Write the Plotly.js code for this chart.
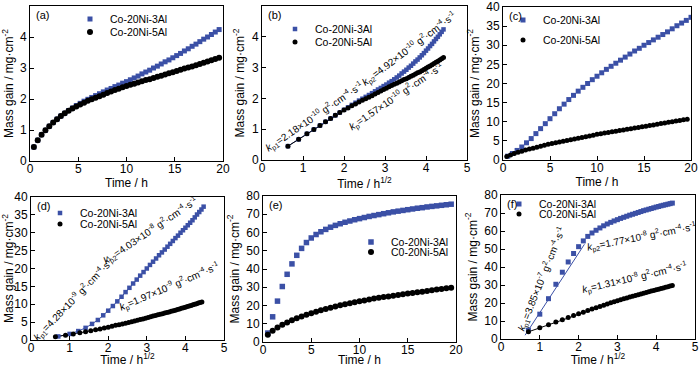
<!DOCTYPE html>
<html><head><meta charset="utf-8">
<script src="https://cdn.plot.ly/plotly-3.0.1.min.js"></script>
<style>html,body{margin:0;padding:0;background:#fff}#c{width:700px;height:367px}</style>
</head><body><div id="c"></div>
<script>
// ---- data ----
// (a)/(b): oxidation time (h), step 0.4 h
var timeA = [0.4,0.8,1.2,1.6,2.0,2.4,2.8,3.2,3.6,4.0,4.4,4.8,5.2,5.6,6.0,6.4,6.8,7.2,7.6,8.0,8.4,8.8,9.2,9.6,10.0,10.4,10.8,11.2,11.6,12.0,12.4,12.8,13.2,13.6,14.0,14.4,14.8,15.2,15.6,16.0,16.4,16.8,17.2,17.6,18.0,18.4,18.8,19.2,19.6];
var massA_3Al = [0.45,0.67,0.85,0.99,1.12,1.24,1.35,1.45,1.54,1.63,1.71,1.79,1.86,1.93,1.99,2.05,2.11,2.17,2.23,2.29,2.34,2.40,2.45,2.51,2.56,2.62,2.68,2.74,2.81,2.87,2.93,3.00,3.06,3.13,3.20,3.26,3.33,3.40,3.47,3.55,3.62,3.70,3.77,3.85,3.93,4.00,4.08,4.16,4.24];
var massA_5Al = [0.45,0.67,0.85,0.99,1.12,1.24,1.35,1.45,1.54,1.62,1.69,1.76,1.82,1.88,1.94,1.99,2.04,2.09,2.14,2.19,2.24,2.29,2.33,2.38,2.42,2.46,2.49,2.53,2.57,2.61,2.64,2.68,2.72,2.75,2.79,2.83,2.86,2.90,2.94,2.98,3.02,3.05,3.09,3.13,3.17,3.21,3.25,3.29,3.33];
// (c)/(d)
var timeC_3Al = [0.5,1.0,1.5,2.0,2.5,3.0,3.5,4.0,4.5,5.0,5.5,6.0,6.5,7.0,7.5,8.0,8.5,9.0,9.5,10.0,10.5,11.0,11.5,12.0,12.5,13.0,13.5,14.0,14.5,15.0,15.5,16.0,16.5,17.0,17.5,18.0,18.5,19.0,19.5,20.0];
var massC_3Al = [1.0,1.7,2.5,3.4,4.5,5.6,6.9,8.2,9.5,10.8,12.1,13.4,14.6,15.8,16.9,18.0,19.0,20.0,21.0,21.9,22.8,23.7,24.5,25.3,26.1,26.9,27.7,28.5,29.2,30.0,30.7,31.4,32.1,32.8,33.5,34.3,35.1,35.8,36.5,37.3];
var timeC_5Al = timeA;
var massC_5Al = [0.9,1.3,1.7,2.0,2.3,2.6,2.85,3.1,3.35,3.6,3.85,4.1,4.3,4.5,4.7,4.9,5.1,5.3,5.5,5.7,5.9,6.1,6.3,6.5,6.7,6.87,7.03,7.2,7.36,7.53,7.69,7.86,8.02,8.19,8.35,8.52,8.68,8.85,9.01,9.18,9.34,9.51,9.67,9.84,10.0,10.17,10.33,10.5,10.66];
// (e)/(f)
var timeE = [0.5,1.0,1.5,2.0,2.5,3.0,3.5,4.0,4.5,5.0,5.5,6.0,6.5,7.0,7.5,8.0,8.5,9.0,9.5,10.0,10.5,11.0,11.5,12.0,12.5,13.0,13.5,14.0,14.5,15.0,15.5,16.0,16.5,17.0,17.5,18.0,18.5,19.0,19.5];
var massE_3Al = [4.9,13.8,22.4,30.4,37.1,42.8,47.5,51.3,54.5,57.0,58.9,60.4,61.7,62.9,63.9,64.8,65.6,66.3,67.0,67.6,68.2,68.8,69.3,69.8,70.3,70.8,71.3,71.7,72.1,72.5,72.9,73.3,73.6,74.0,74.3,74.6,74.9,75.2,75.5];
var massE_5Al = [4.0,6.2,7.9,9.4,10.7,11.9,13.0,14.0,14.9,15.8,16.6,17.4,18.1,18.8,19.5,20.1,20.7,21.3,21.8,22.3,22.8,23.3,23.8,24.2,24.6,25.0,25.4,25.8,26.2,26.6,26.9,27.3,27.6,28.0,28.3,28.7,29.0,29.4,29.7];
// linear fit k_p1 in (f): sqrt(h), mg/cm2
var fitF_x = [0.62, 2.15];
var fitF_y = [2.1, 52.6];
// names
var name3 = "Co-20Ni-3Al", name5 = "Co-20Ni-5Al", name5b = "C0-20Ni-5Al";
var panelLabels = ["(a)","(b)","(c)","(d)","(e)","(f)"];
var kTexts = [
  "<i>k</i><sub>p1</sub>=2.18×10<sup>-10</sup> g<sup>2</sup>·cm<sup>-4</sup>·s<sup>-1</sup>",
  "<i>k</i><sub>p2</sub>=4.92×10<sup>-10</sup> g<sup>2</sup>·cm<sup>-4</sup>·s<sup>-1</sup>",
  "<i>k</i><sub>p</sub>=1.57×10<sup>-10</sup> g<sup>2</sup>·cm<sup>-4</sup>·s<sup>-1</sup>",
  "<i>k</i><sub>p1</sub>=4.28×10<sup>-9</sup> g<sup>2</sup>·cm<sup>-4</sup>·s<sup>-1</sup>",
  "<i>k</i><sub>p2</sub>=4.03×10<sup>-8</sup> g<sup>2</sup>·cm<sup>-4</sup>·s<sup>-1</sup>",
  "<i>k</i><sub>p</sub>=1.97×10<sup>-9</sup> g<sup>2</sup>·cm<sup>-4</sup>·s<sup>-1</sup>",
  "<i>k</i><sub>p1</sub>=3.85×10<sup>-7</sup> g<sup>2</sup>·cm<sup>-4</sup>·s<sup>-1</sup>",
  "<i>k</i><sub>p2</sub>=1.77×10<sup>-8</sup> g<sup>2</sup>·cm<sup>-4</sup>·s<sup>-1</sup>",
  "<i>k</i><sub>p</sub>=1.31×10<sup>-8</sup> g<sup>2</sup>·cm<sup>-4</sup>·s<sup>-1</sup>"
];

// ---- styling ----
var W = 700, H = 367, MB = 25;
var PH = H - MB;
var BLUE = "#3b50a6", BLACK = "#000000";
var FONT = "Liberation Sans, Arial, sans-serif";
function px(x){ return x / W; }
function py(y){ return (PH - y) / PH; }
function sq(a){ return a.map(Math.sqrt); }

var traces = [];
function addLine(ax, x, y, color){
  traces.push({x:x, y:y, xaxis:"x"+ax, yaxis:"y"+ax, type:"scatter", mode:"lines",
    showlegend:false, line:{color:color, width:1}, hoverinfo:"skip"});
}
function addPts(ax, x, y, color, sym, size, name, leg){
  traces.push({x:x, y:y, xaxis:"x"+ax, yaxis:"y"+ax, type:"scatter", mode:"markers",
    name:name, legend:leg, showlegend:true, marker:{symbol:sym, size:size, color:color}});
}
// (a)
addPts("", timeA, massA_3Al, BLUE, "square", 5, name3, "legend");
addPts("", timeA, massA_5Al, BLACK, "circle", 6, name5, "legend2");
// (b)
addLine("2", sq(timeA), massA_3Al, BLUE);
addLine("2", sq(timeA), massA_5Al, BLACK);
addPts("2", sq(timeA), massA_3Al, BLUE, "square", 4.5, name3, "legend3");
addPts("2", sq(timeA), massA_5Al, BLACK, "circle", 5, name5, "legend4");
// (c)
addPts("3", timeC_3Al, massC_3Al, BLUE, "square", 5, name3, "legend5");
addPts("3", timeC_5Al, massC_5Al, BLACK, "circle", 5, name5, "legend6");
// (d)
addLine("4", sq(timeC_3Al), massC_3Al, BLUE);
addLine("4", sq(timeC_5Al), massC_5Al, BLACK);
addPts("4", sq(timeC_3Al), massC_3Al, BLUE, "square", 4.5, name3, "legend7");
addPts("4", sq(timeC_5Al), massC_5Al, BLACK, "circle", 5, name5, "legend8");
// (e)
addPts("5", timeE, massE_3Al, BLUE, "square", 5.5, name3, "legend9");
addPts("5", timeE, massE_5Al, BLACK, "circle", 6, name5b, "legend10");
// (f)
addLine("6", fitF_x, fitF_y, BLUE);
addLine("6", sq(timeE), massE_5Al, BLACK);
addPts("6", sq(timeE), massE_3Al, BLUE, "square", 5, name3, "legend11");
addPts("6", sq(timeE), massE_5Al, BLACK, "circle", 5, name5b, "legend12");

// panel geometry in pixels: [left, right, top, bottom]
var boxes = [[30,223,6,161],[262,467,6,160],[503,691,7,160],[31,224,197,340],[263,456,196,342],[501,695,195,339]];
var xr = [[0,20],[0,5],[0,20],[0,5],[0,20],[0,5]];
var yr = [[0,5],[0,5],[0,40],[0,40],[0,80],[0,80]];
var xd = [5,1,5,1,5,1], yd = [1,1,5,5,10,10];
var xt = ["Time / h","Time / h<sup>1/2</sup>","Time / h","Time / h<sup>1/2</sup>","Time / h","Time / h<sup>1/2</sup>"];
var ytitle = "Mass gain / mg·cm<sup>-2</sup>";

var layout = {width:W, height:H, margin:{l:0,r:0,t:0,b:MB}, paper_bgcolor:"#fff", plot_bgcolor:"#fff",
  font:{family:FONT, size:12, color:"#000"}, annotations:[], showlegend:true};
for (var i=0;i<6;i++){
  var s = i===0 ? "" : String(i+1);
  var b = boxes[i];
  var common = {showline:true, linecolor:"#000", linewidth:1, mirror:true, ticks:"inside", ticklen:4,
    tickcolor:"#000", showgrid:false, zeroline:false, tickfont:{size:12, color:"#000", family:FONT}};
  layout["xaxis"+s] = Object.assign({}, common, {domain:[px(b[0]),px(b[1])], range:xr[i], dtick:xd[i], tick0:0,
    anchor:"y"+s, automargin:false, ticklabelstandoff:-3, title:{text:xt[i], font:{size:12}, standoff:1}});
  layout["yaxis"+s] = Object.assign({}, common, {domain:[py(b[3]),py(b[2])], range:yr[i], dtick:yd[i], tick0:0,
    anchor:"x"+s, automargin:false, title:{text:ytitle, font:{size:12}, standoff:4}});
  layout.annotations.push({text:panelLabels[i], xref:"paper", yref:"paper", x:px(b[0]+4), y:py(b[2]+9),
    xanchor:"left", yanchor:"middle", showarrow:false, font:{size:11}});
}
// legends: [text start x, y]
var legPos = [[110,19],[110,32],[315,29],[315,42],[543,20],[543,40],[80,213],[80,224],[391,242],[391,252],[539,204],[539,214]];
var legNames = ["legend","legend2","legend3","legend4","legend5","legend6","legend7","legend8","legend9","legend10","legend11","legend12"];
for (var j=0;j<12;j++){
  layout[legNames[j]] = {x:px(legPos[j][0]-40), y:py(legPos[j][1]), xanchor:"left", yanchor:"middle",
    bgcolor:"rgba(0,0,0,0)", borderwidth:0, font:{size:10.5, family:FONT, color:"#000"}};
}
// k_p annotations: [axis, x, y, angle]
var kPos = [["2",1.28,1.39,-34],["2",3.59,3.59,-37],["2",3.27,2.03,-34],
            ["4",1.11,11.6,-46],["4",3.09,30.5,-34],["4",3.58,14.7,-23],
            ["6",1.05,33.4,-68],["6",3.63,56.9,-11],["6",3.43,33.8,-13]];
for (var k=0;k<kPos.length;k++){
  layout.annotations.push({text:kTexts[k], xref:"x"+kPos[k][0], yref:"y"+kPos[k][0], x:kPos[k][1], y:kPos[k][2],
    textangle:kPos[k][3], showarrow:false, font:{size:10, family:FONT, color:"#000"}});
}
Plotly.newPlot("c", traces, layout, {staticPlot:true});
</script></body></html>
